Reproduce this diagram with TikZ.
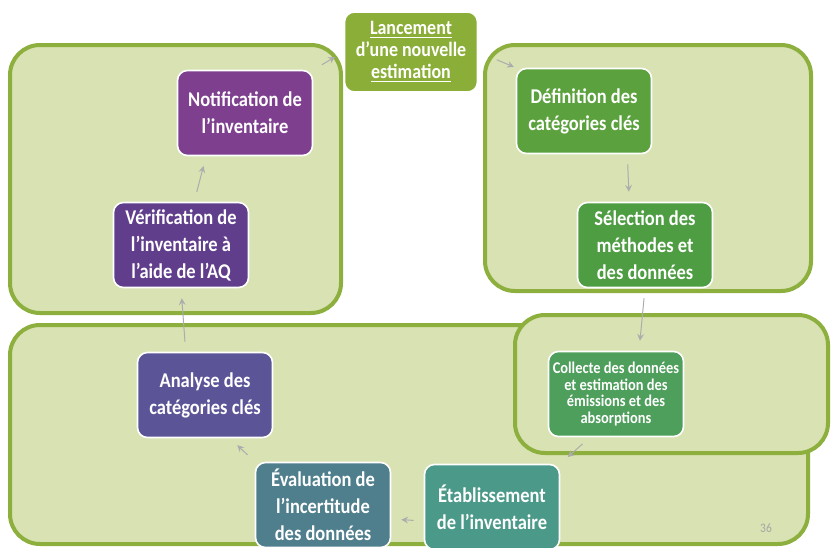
\documentclass[tikz,border=0pt]{standalone}
\usepackage{fontspec}
\setmainfont{Carlito}[FakeStretch=0.88]
\usepackage{tikz}

\definecolor{panelfill}{HTML}{D8E2B2}
\definecolor{panelline}{HTML}{8DAF3E}
\definecolor{launchgreen}{HTML}{8BAE38}
\definecolor{notifpurple}{HTML}{7E3F8F}
\definecolor{verifpurple}{HTML}{603E8C}
\definecolor{analyseblue}{HTML}{5B5597}
\definecolor{evalteal}{HTML}{4F7E8C}
\definecolor{etabteal}{HTML}{4B9A89}
\definecolor{collectgreen}{HTML}{4E9E5C}
\definecolor{selectgreen}{HTML}{4E9D42}
\definecolor{defgreen}{HTML}{5BA23E}

\tikzset{
    panel/.style={draw=panelline, fill=panelfill, line width=2pt, rounded corners=15pt},
    etape/.style={draw=white, line width=0.8pt, rounded corners=5pt, text=white,
        minimum width=67.5pt, minimum height=42.5pt, inner sep=1pt, align=center,
        font=\fontsize{10.5}{13.5}\selectfont\bfseries},
    flow/.style={->, >=stealth, draw=gray!65, line width=0.5pt, shorten <=5pt, shorten >=5pt}
}

\begin{document}
\begin{tikzpicture}[x=0.5pt, y=-0.5pt]
    \useasboundingbox (0,0) rectangle (831,547);

    % panels
    \draw[panel] (10,45) rectangle (341,313);
    \draw[panel] (485,45) rectangle (811,291);
    \draw[panel] (10,325) rectangle (808,544);
    \draw[panel] (515,315) rectangle (828,453);

    % steps
    \node[etape, fill=launchgreen, minimum width=66.5pt, minimum height=40pt,
        font=\fontsize{10.2}{11.2}\selectfont\bfseries] (launch) at (411,52)
        {\underline{Lancement}\\d'une nouvelle\\\underline{estimation}};
    \node[etape, fill=notifpurple] (notif) at (245,113) {Notification de\\l'inventaire};
    \node[etape, fill=verifpurple] (verif) at (181,245) {Vérification de\\l'inventaire à\\l'aide de l'AQ};
    \node[etape, fill=defgreen] (defin) at (584,111) {Définition des\\catégories clés};
    \node[etape, fill=selectgreen] (select) at (645,245) {Sélection des\\méthodes et\\des données};
    \node[etape, fill=collectgreen, font=\fontsize{8.2}{8.3}\selectfont\bfseries] (collect) at (616,394)
        {Collecte des données\\et estimation des\\émissions et des\\absorptions};
    \node[etape, fill=etabteal] (etab) at (492,507) {Établissement\\de l'inventaire};
    \node[etape, fill=evalteal] (evalu) at (323,505) {Évaluation de\\l'incertitude\\des données};
    \node[etape, fill=analyseblue] (analyse) at (205,395) {Analyse des\\catégories clés};

    \node[text=gray!70, font=\fontsize{6.5}{7}\selectfont] (page) at (766,528) {36};

    % cycle
    \draw[flow, shorten <=10pt, shorten >=1pt] (launch.east) -- (defin.north west);
    \draw[flow] (defin.-45) -- (select.110);
    \draw[flow] (select.south) -- (collect.62);
    \draw[flow] (collect.-121) -- (etab.north east);
    \draw[flow] ([yshift=-7pt]etab.west) -- ([yshift=-7pt]evalu.east);
    \draw[flow] (evalu.north west) -- (analyse.-60);
    \draw[flow] (analyse.114) -- (verif.south);
    \draw[flow] (verif.73) -- (notif.-132);
    \draw[flow] (notif.north east) -- (launch.west);
\end{tikzpicture}
\end{document}
